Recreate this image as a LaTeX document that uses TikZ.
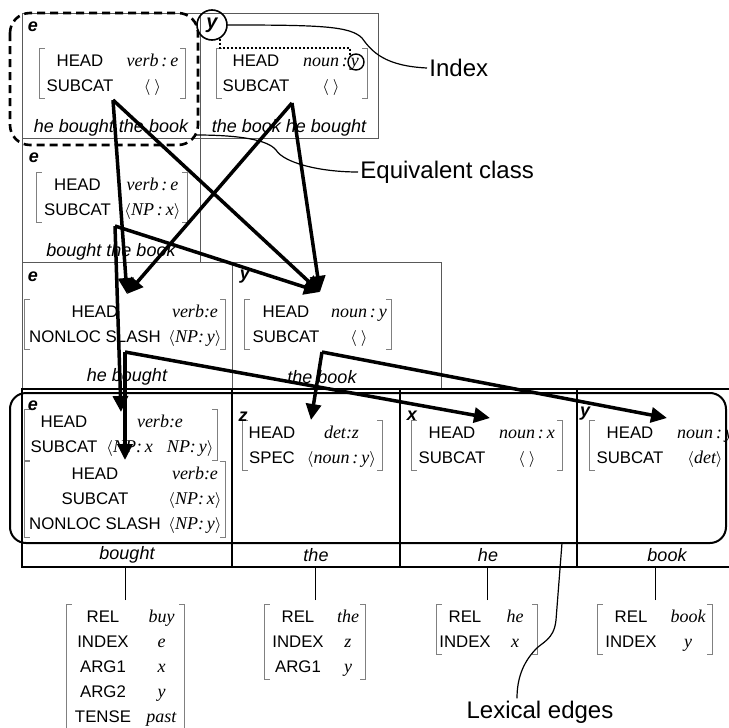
\documentclass[tikz,border=0pt]{standalone}
\usepackage{fontspec}
\setmainfont{Liberation Serif}
\setsansfont{Liberation Sans}
\usepackage{array}
\usetikzlibrary{arrows.meta}

% feature values, lists and two-column feature structures
\newcommand{\fv}[1]{{\rmfamily\itshape\fontsize{9}{12.5}\selectfont #1}}
\newcommand{\lst}[1]{$\langle$#1$\rangle$}
\newcommand{\avmtab}[3]{\begin{tabular}{@{}>{\centering\arraybackslash}p{#1}@{}>{\centering\arraybackslash}p{#2}@{}}#3\end{tabular}}
\newcommand{\avmbrackets}[1]{\draw[brk] ([xshift=2.5pt]#1.north west) -- (#1.north west) -- (#1.south west) -- ([xshift=2.5pt]#1.south west)
  ([xshift=-2.5pt]#1.north east) -- (#1.north east) -- (#1.south east) -- ([xshift=-2.5pt]#1.south east);}

\begin{document}
\begin{tikzpicture}[x=0.5pt, y=-0.5pt,
  cell/.style={draw=gray!70!black, line width=0.5pt},
  lexcell/.style={draw=black, line width=0.7pt},
  brk/.style={draw=gray, line width=0.5pt},
  avm/.style={inner sep=0pt, font=\sffamily\fontsize{8.4}{12.5}\selectfont},
  word/.style={inner sep=1pt, font=\sffamily\itshape\fontsize{9}{11}\selectfont},
  idx/.style={inner sep=0pt, font=\sffamily\bfseries\itshape\fontsize{9}{11}\selectfont},
  ptr/.style={line width=1.75pt, -{Triangle[length=8pt, width=7.5pt]}},
  callout/.style={inner sep=1pt, font=\sffamily\fontsize{12}{14}\selectfont},
  note/.style={line width=0.6pt}]

  \useasboundingbox (0,0) rectangle (729,728);

  % chart cells
  \draw[cell] (22,13) rectangle (200,138);
  \draw[cell] (200,13) rectangle (378,138);
  \draw[cell] (22,138) rectangle (200,262);
  \draw[cell] (22,262) rectangle (232,389);
  \draw[cell] (232,262) rectangle (441,389);
  \foreach \l/\r in {22/232, 232/400, 400/577, 577/760}
    \draw[lexcell] (\l,389) rectangle (\r,567);

  % equivalent class and lexical edges
  \draw[line width=1.3pt, dash pattern=on 4pt off 2.5pt, rounded corners=10pt] (10,13) rectangle (198,145);
  \draw[line width=1pt, rounded corners=8pt] (10,393) rectangle (726,543);

  % edges
  \node[avm] (av-hbtb) at (112.5,73.5) {\avmtab{40pt}{32.5pt}{HEAD & \fv{verb\,:\,e}\\ SUBCAT & \lst{\hspace{2pt}}}};
  \node[avm] (av-tbhb) at (292,73.5) {\avmtab{39pt}{36pt}{HEAD & \fv{noun\,:\,y}\\ SUBCAT & \lst{\hspace{2pt}}}};
  \node[avm] (av-btb) at (112,197.5) {\avmtab{40.5pt}{34.5pt}{HEAD & \fv{verb\,:\,e}\\ SUBCAT & \lst{\fv{NP\,:\,x}}}};
  \node[avm] (av-hb) at (125,324.5) {\avmtab{70pt}{30pt}{HEAD & \fv{verb:e}\\ NONLOC SLASH & \lst{\fv{NP:\,y}}}};
  \node[avm] (av-tbk) at (318,324.5) {\avmtab{41pt}{32pt}{HEAD & \fv{noun\,:\,y}\\ SUBCAT & \lst{\hspace{2pt}}}};
  \node[avm] (av-b1) at (121,435) {\avmtab{39pt}{57pt}{HEAD & \fv{verb:e}\\ SUBCAT & \lst{\fv{NP:\,x\hspace{7pt}NP:\,y}}}};
  \node[avm] (av-b2) at (125,499.5) {\avmtab{70pt}{30pt}{HEAD & \fv{verb:e}\\ SUBCAT & \lst{\fv{NP:\,x}}\\ NONLOC SLASH & \lst{\fv{NP:\,y}}}};
  \node[avm] (av-the) at (312.5,445.5) {\avmtab{29pt}{40.5pt}{HEAD & \fv{det:z}\\ SPEC & \lst{\fv{noun\,:\,y}}}};
  \node[avm] (av-he) at (487,445.5) {\avmtab{40pt}{35pt}{HEAD & \fv{noun\,:\,x}\\ SUBCAT & \lst{\hspace{2pt}}}};
  \node[avm] (av-book) at (665,445.5) {\avmtab{40pt}{35pt}{HEAD & \fv{noun\,:\,y}\\ SUBCAT & \lst{\fv{det}}}};

  % semantics of the words
  \node[avm] (sem-bought) at (125.5,667) {\avmtab{36pt}{22.5pt}{REL & \fv{buy}\\ INDEX & \fv{e}\\ ARG1 & \fv{x}\\ ARG2 & \fv{y}\\ TENSE & \fv{past}}};
  \node[avm] (sem-the) at (315,642) {\avmtab{33pt}{17pt}{REL & \fv{the}\\ INDEX & \fv{z}\\ ARG1 & \fv{y}}};
  \node[avm] (sem-he) at (487,629.5) {\avmtab{28pt}{22pt}{REL & \fv{he}\\ INDEX & \fv{x}}};
  \node[avm] (sem-book) at (655,629.5) {\avmtab{33pt}{24pt}{REL & \fv{book}\\ INDEX & \fv{y}}};

  \foreach \n in {av-hbtb, av-tbhb, av-btb, av-hb, av-tbk, av-b1, av-b2, av-the, av-he, av-book,
                  sem-bought, sem-the, sem-he, sem-book}
    \avmbrackets{\n};

  % words
  \node[word] (w-hbtb) at (111,128) {he bought the book};
  \node[word] (w-tbhb) at (289,128) {the book he bought};
  \node[word] (w-btb) at (111,252) {bought the book};
  \node[word] (w-hb) at (127,377) {he bought};
  \node[word] (w-tbk) at (322,377) {the book};
  \node[word] (w-bought) at (127,555) {bought};
  \node[word] (w-the) at (316,555) {the};
  \node[word] (w-he) at (488,555) {he};
  \node[word] (w-book) at (667,555) {book};

  \coordinate (base) at (0,567);
  \foreach \n in {bought, the, he, book}
    \draw[line width=0.5pt] ([yshift=2pt]sem-\n.north) -- (sem-\n.north |- base);

  % indices
  \node[idx] (ix-hbtb) at (33,27) {e};
  \node[idx] (ix-btb) at (34,158) {e};
  \node[idx] (ix-hb) at (33,277) {e};
  \node[idx] (ix-tbk) at (245,277) {y};
  \node[idx] (ix-b) at (33,406) {e};
  \node[idx] (ix-the) at (243,417) {z};
  \node[idx] (ix-he) at (412,416) {x};
  \node[idx] (ix-book) at (585,414) {y};
  \node[idx, circle, draw, line width=0.8pt, minimum size=15pt, font=\sffamily\bfseries\itshape\fontsize{10}{12}\selectfont] (yidx) at (212,25) {y};
  \node[circle, draw, line width=0.7pt, minimum size=8pt, inner sep=0pt] (ysub) at (356,62) {};
  \draw[line width=1pt, dash pattern=on 1pt off 1pt] (yidx.-60) -- ++(0,9) -| (ysub.135);

  % arrows between edges
  \coordinate (o-hbtb) at (113,100);
  \coordinate (o-tbhb) at (292,103);
  \coordinate (o-btb) at (115,226);
  \coordinate (o-hb) at (125,352);
  \coordinate (o-tbk) at (322,352);
  \coordinate (i-hb) at (127,294);
  \coordinate (i-tbk) at (320,292);
  \coordinate (i-b1) at (121,412);
  \coordinate (i-b2) at (125,460);
  \coordinate (i-the) at (311,420);
  \coordinate (i-he) at (490,418);
  \coordinate (i-book) at (667,418);
  \foreach \a/\b in {o-hbtb/i-hb, o-hbtb/i-tbk, o-tbhb/i-hb, o-tbhb/i-tbk, o-btb/i-b1,
                     o-btb/i-tbk, o-hb/i-b2, o-hb/i-he, o-tbk/i-the, o-tbk/i-book}
    \draw[ptr] (\a) -- (\b);

  % callouts
  \node[callout, anchor=west] (index) at (427,68) {Index};
  \node[callout, anchor=west] (equiv) at (358,172) {Equivalent class};
  \node[callout] (lexlabel) at (540,712) {Lexical edges};
  \coordinate (eqc) at (196,135);
  \coordinate (lex) at (562,543);
  \draw[note] (yidx.east) .. controls (320,25) and (350,26) .. (362,38) .. controls (372,52) and (385,66) .. (index.west);
  \draw[note] (eqc) .. controls (240,135) and (268,140) .. (276,150) .. controls (284,163) and (320,172) .. (equiv.west);
  \draw[note] (lex) -- (556,620) .. controls (554,640) and (542,642) .. (535,650) .. controls (522,664) and (517,680) .. ([xshift=-11.5pt]lexlabel.north);
\end{tikzpicture}
\end{document}
